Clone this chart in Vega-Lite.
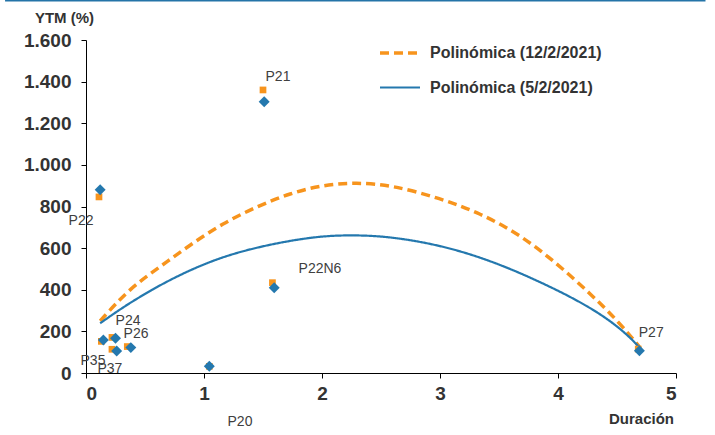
{
  "$schema": "https://vega.github.io/schema/vega-lite/v6.json",
  "width": 590,
  "height": 333,
  "autosize": "none",
  "padding": {"left": 86, "top": 40, "right": 39, "bottom": 62},
  "background": "white",
  "config": {
    "view": {"stroke": null},
    "font": "Liberation Sans",
    "axis": {"grid": false, "domainColor": "#000000", "tickColor": "#000000", "tickSize": 5, "labelFont": "Liberation Sans", "labelFontSize": 19, "labelFontWeight": "bold", "labelColor": "#333333", "titleFont": "Liberation Sans", "titleFontWeight": "bold", "titleColor": "#333333", "titleFontSize": 15}
  },
  "datasets": {
    "curves": [
      {"serie": "Polinómica (12/2/2021)", "dur": 0.12, "ytm": 250},
      {"serie": "Polinómica (12/2/2021)", "dur": 0.37, "ytm": 407},
      {"serie": "Polinómica (12/2/2021)", "dur": 0.63, "ytm": 511},
      {"serie": "Polinómica (12/2/2021)", "dur": 0.88, "ytm": 615},
      {"serie": "Polinómica (12/2/2021)", "dur": 1.16, "ytm": 720},
      {"serie": "Polinómica (12/2/2021)", "dur": 1.45, "ytm": 800},
      {"serie": "Polinómica (12/2/2021)", "dur": 1.73, "ytm": 864},
      {"serie": "Polinómica (12/2/2021)", "dur": 2.01, "ytm": 904},
      {"serie": "Polinómica (12/2/2021)", "dur": 2.29, "ytm": 915},
      {"serie": "Polinómica (12/2/2021)", "dur": 2.58, "ytm": 904},
      {"serie": "Polinómica (12/2/2021)", "dur": 3.0, "ytm": 840},
      {"serie": "Polinómica (12/2/2021)", "dur": 3.34, "ytm": 768},
      {"serie": "Polinómica (12/2/2021)", "dur": 3.68, "ytm": 664},
      {"serie": "Polinómica (12/2/2021)", "dur": 3.99, "ytm": 527},
      {"serie": "Polinómica (12/2/2021)", "dur": 4.27, "ytm": 383},
      {"serie": "Polinómica (12/2/2021)", "dur": 4.5, "ytm": 255},
      {"serie": "Polinómica (12/2/2021)", "dur": 4.69, "ytm": 126},
      {"serie": "Polinómica (5/2/2021)", "dur": 0.12, "ytm": 239},
      {"serie": "Polinómica (5/2/2021)", "dur": 0.32, "ytm": 319},
      {"serie": "Polinómica (5/2/2021)", "dur": 0.6, "ytm": 415},
      {"serie": "Polinómica (5/2/2021)", "dur": 0.88, "ytm": 495},
      {"serie": "Polinómica (5/2/2021)", "dur": 1.16, "ytm": 559},
      {"serie": "Polinómica (5/2/2021)", "dur": 1.45, "ytm": 604},
      {"serie": "Polinómica (5/2/2021)", "dur": 1.73, "ytm": 636},
      {"serie": "Polinómica (5/2/2021)", "dur": 2.01, "ytm": 659},
      {"serie": "Polinómica (5/2/2021)", "dur": 2.29, "ytm": 663},
      {"serie": "Polinómica (5/2/2021)", "dur": 2.58, "ytm": 655},
      {"serie": "Polinómica (5/2/2021)", "dur": 3.0, "ytm": 615},
      {"serie": "Polinómica (5/2/2021)", "dur": 3.42, "ytm": 543},
      {"serie": "Polinómica (5/2/2021)", "dur": 3.85, "ytm": 439},
      {"serie": "Polinómica (5/2/2021)", "dur": 4.27, "ytm": 319},
      {"serie": "Polinómica (5/2/2021)", "dur": 4.55, "ytm": 207},
      {"serie": "Polinómica (5/2/2021)", "dur": 4.71, "ytm": 111}
    ],
    "pts12": [
      {"name": "P21", "dur": 1.5, "ytm": 1360},
      {"name": "P22", "dur": 0.11, "ytm": 846},
      {"name": "P22N6", "dur": 1.58, "ytm": 434},
      {"name": "P27", "dur": 4.68, "ytm": 115},
      {"name": "P20", "dur": 1.045, "ytm": 32},
      {"name": "P35", "dur": 0.13, "ytm": 152},
      {"name": "P24", "dur": 0.22, "ytm": 171},
      {"name": "P37", "dur": 0.22, "ytm": 114},
      {"name": "P26", "dur": 0.35, "ytm": 127}
    ],
    "pts5": [
      {"name": "P21", "dur": 1.51, "ytm": 1303},
      {"name": "P22", "dur": 0.12, "ytm": 880},
      {"name": "P22N6", "dur": 1.595, "ytm": 410},
      {"name": "P27", "dur": 4.69, "ytm": 107},
      {"name": "P20", "dur": 1.045, "ytm": 32},
      {"name": "P35", "dur": 0.147, "ytm": 159},
      {"name": "P24", "dur": 0.25, "ytm": 167},
      {"name": "P37", "dur": 0.26, "ytm": 106},
      {"name": "P26", "dur": 0.38, "ytm": 122}
    ],
    "labels": [
      {"name": "P21", "lx": 1.627, "ly": 1423},
      {"name": "P22", "lx": -0.042, "ly": 731},
      {"name": "P22N6", "lx": 1.983, "ly": 500},
      {"name": "P24", "lx": 0.356, "ly": 250},
      {"name": "P26", "lx": 0.424, "ly": 188},
      {"name": "P35", "lx": 0.059, "ly": 58},
      {"name": "P37", "lx": 0.203, "ly": 19},
      {"name": "P20", "lx": 1.305, "ly": -236},
      {"name": "P27", "lx": 4.79, "ly": 192}
    ]
  },
  "layer": [
    {
      "data": {"values": [{}]},
      "mark": {"type": "rule", "color": "#2474a8", "strokeWidth": 2},
      "encoding": {
        "x": {"datum": -0.686, "type": "quantitative", "scale": {"domain": [0, 5]}},
        "x2": {"datum": 5.25},
        "y": {"datum": 1790, "type": "quantitative", "scale": {"domain": [0, 1600]}}
      }
    },
    {
      "data": {"name": "curves"},
      "mark": {"type": "line", "interpolate": "basis"},
      "encoding": {
        "x": {"field": "dur", "type": "quantitative", "scale": {"domain": [0, 5]},
          "axis": {"values": [0, 1, 2, 3, 4, 5], "format": "d", "title": "Duración", "titleAngle": 0, "titleX": 555, "titleY": 45, "titleAlign": "center", "titleBaseline": "middle", "labelPadding": 6}},
        "y": {"field": "ytm", "type": "quantitative", "scale": {"domain": [0, 1600]},
          "axis": {"values": [0, 200, 400, 600, 800, 1000, 1200, 1400, 1600], "labelExpr": "replace(format(datum.value, ','), ',', '.')", "title": "YTM (%)", "titleAngle": 0, "titleX": -22, "titleY": -23, "titleAlign": "center", "titleBaseline": "middle", "labelPadding": 10}},
        "color": {"field": "serie", "type": "nominal",
          "scale": {"domain": ["Polinómica (12/2/2021)", "Polinómica (5/2/2021)"], "range": ["#f7941d", "#2478ae"]},
          "legend": {"title": null, "orient": "none", "legendX": 292, "legendY": -9, "padding": 0, "symbolType": "stroke", "symbolSize": 1600, "labelFont": "Liberation Sans", "labelFontSize": 16, "labelFontWeight": "bold", "labelColor": "#333333", "labelOffset": 8, "labelLimit": 0, "rowPadding": 5, "direction": "vertical"}},
        "strokeDash": {"field": "serie", "type": "nominal",
          "scale": {"domain": ["Polinómica (12/2/2021)", "Polinómica (5/2/2021)"], "range": [[9, 5], [1, 0]]},
          "legend": {"title": null, "orient": "none", "legendX": 292, "legendY": -9, "padding": 0, "symbolType": "stroke", "symbolSize": 1600, "labelFont": "Liberation Sans", "labelFontSize": 16, "labelFontWeight": "bold", "labelColor": "#333333", "labelOffset": 8, "labelLimit": 0, "rowPadding": 5, "direction": "vertical"}},
        "strokeWidth": {"field": "serie", "type": "nominal",
          "scale": {"domain": ["Polinómica (12/2/2021)", "Polinómica (5/2/2021)"], "range": [3.5, 2.2]},
          "legend": {"title": null, "orient": "none", "legendX": 292, "legendY": -9, "padding": 0, "symbolType": "stroke", "symbolSize": 1600, "labelFont": "Liberation Sans", "labelFontSize": 16, "labelFontWeight": "bold", "labelColor": "#333333", "labelOffset": 8, "labelLimit": 0, "rowPadding": 5, "direction": "vertical"}}
      }
    },
    {
      "data": {"name": "pts12"},
      "mark": {"type": "point", "shape": "square", "filled": true, "size": 45, "color": "#f7941d", "opacity": 1},
      "encoding": {
        "x": {"field": "dur", "type": "quantitative"},
        "y": {"field": "ytm", "type": "quantitative"}
      }
    },
    {
      "data": {"name": "pts5"},
      "mark": {"type": "point", "shape": "diamond", "filled": true, "size": 120, "color": "#2478ae", "opacity": 1},
      "encoding": {
        "x": {"field": "dur", "type": "quantitative"},
        "y": {"field": "ytm", "type": "quantitative"}
      }
    },
    {
      "data": {"name": "labels"},
      "mark": {"type": "text", "font": "Liberation Sans", "fontSize": 14, "color": "#404040", "align": "center", "baseline": "middle"},
      "encoding": {
        "x": {"field": "lx", "type": "quantitative"},
        "y": {"field": "ly", "type": "quantitative"},
        "text": {"field": "name"}
      }
    }
  ]
}
